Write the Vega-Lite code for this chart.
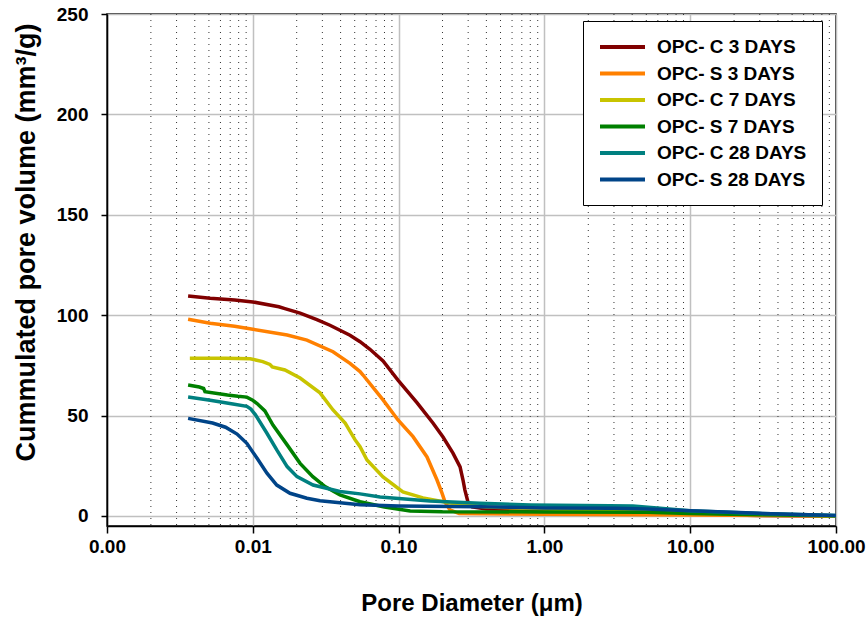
{
  "$schema": "https://vega.github.io/schema/vega-lite/v6.json",
  "width": 729,
  "height": 512,
  "autosize": {"type": "none"},
  "padding": {"left": 107, "top": 14, "right": 32, "bottom": 91},
  "background": "white",
  "config": {"font": "Liberation Sans", "view": {"stroke": "black", "strokeWidth": 1.5}},
  "datasets": {
    "minor": [
      {"d": 0.002}, {"d": 0.003}, {"d": 0.004}, {"d": 0.005}, {"d": 0.006}, {"d": 0.007}, {"d": 0.008}, {"d": 0.009},
      {"d": 0.02}, {"d": 0.03}, {"d": 0.04}, {"d": 0.05}, {"d": 0.06}, {"d": 0.07}, {"d": 0.08}, {"d": 0.09},
      {"d": 0.2}, {"d": 0.3}, {"d": 0.4}, {"d": 0.5}, {"d": 0.6}, {"d": 0.7}, {"d": 0.8}, {"d": 0.9},
      {"d": 2}, {"d": 3}, {"d": 4}, {"d": 5}, {"d": 6}, {"d": 7}, {"d": 8}, {"d": 9},
      {"d": 20}, {"d": 30}, {"d": 40}, {"d": 50}, {"d": 60}, {"d": 70}, {"d": 80}, {"d": 90}
    ],
    "curves": [
      {"s": "OPC- C 3 DAYS", "d": 0.0036, "v": 109.6},
      {"s": "OPC- C 3 DAYS", "d": 0.0051, "v": 108.4},
      {"s": "OPC- C 3 DAYS", "d": 0.0075, "v": 107.5},
      {"s": "OPC- C 3 DAYS", "d": 0.01, "v": 106.6},
      {"s": "OPC- C 3 DAYS", "d": 0.0151, "v": 104.2},
      {"s": "OPC- C 3 DAYS", "d": 0.0166, "v": 103.3},
      {"s": "OPC- C 3 DAYS", "d": 0.0211, "v": 101},
      {"s": "OPC- C 3 DAYS", "d": 0.0275, "v": 97.8},
      {"s": "OPC- C 3 DAYS", "d": 0.0338, "v": 95},
      {"s": "OPC- C 3 DAYS", "d": 0.0464, "v": 90},
      {"s": "OPC- C 3 DAYS", "d": 0.0544, "v": 86.8},
      {"s": "OPC- C 3 DAYS", "d": 0.0636, "v": 83},
      {"s": "OPC- C 3 DAYS", "d": 0.0782, "v": 77.2},
      {"s": "OPC- C 3 DAYS", "d": 0.099, "v": 67.7},
      {"s": "OPC- C 3 DAYS", "d": 0.134, "v": 56.3},
      {"s": "OPC- C 3 DAYS", "d": 0.172, "v": 46.3},
      {"s": "OPC- C 3 DAYS", "d": 0.2016, "v": 39.3},
      {"s": "OPC- C 3 DAYS", "d": 0.236, "v": 31.3},
      {"s": "OPC- C 3 DAYS", "d": 0.264, "v": 24.4},
      {"s": "OPC- C 3 DAYS", "d": 0.2765, "v": 17.9},
      {"s": "OPC- C 3 DAYS", "d": 0.285, "v": 12.9},
      {"s": "OPC- C 3 DAYS", "d": 0.299, "v": 7.0},
      {"s": "OPC- C 3 DAYS", "d": 0.319, "v": 4.5},
      {"s": "OPC- C 3 DAYS", "d": 0.4, "v": 3.5},
      {"s": "OPC- C 3 DAYS", "d": 1, "v": 3.0},
      {"s": "OPC- C 3 DAYS", "d": 5, "v": 2.5},
      {"s": "OPC- C 3 DAYS", "d": 10, "v": 1.5},
      {"s": "OPC- C 3 DAYS", "d": 20, "v": 0.5},
      {"s": "OPC- C 3 DAYS", "d": 30, "v": 0.2},
      {"s": "OPC- C 3 DAYS", "d": 100, "v": 0},
      {"s": "OPC- S 3 DAYS", "d": 0.0036, "v": 98},
      {"s": "OPC- S 3 DAYS", "d": 0.0051, "v": 96},
      {"s": "OPC- S 3 DAYS", "d": 0.0075, "v": 94.5},
      {"s": "OPC- S 3 DAYS", "d": 0.01, "v": 93},
      {"s": "OPC- S 3 DAYS", "d": 0.0172, "v": 90.1},
      {"s": "OPC- S 3 DAYS", "d": 0.0235, "v": 87.6},
      {"s": "OPC- S 3 DAYS", "d": 0.0355, "v": 81.8},
      {"s": "OPC- S 3 DAYS", "d": 0.0464, "v": 76},
      {"s": "OPC- S 3 DAYS", "d": 0.0544, "v": 71.9},
      {"s": "OPC- S 3 DAYS", "d": 0.057, "v": 70.2},
      {"s": "OPC- S 3 DAYS", "d": 0.0782, "v": 57.8},
      {"s": "OPC- S 3 DAYS", "d": 0.099, "v": 47.8},
      {"s": "OPC- S 3 DAYS", "d": 0.1256, "v": 39.5},
      {"s": "OPC- S 3 DAYS", "d": 0.1566, "v": 29.4},
      {"s": "OPC- S 3 DAYS", "d": 0.1834, "v": 17.9},
      {"s": "OPC- S 3 DAYS", "d": 0.1985, "v": 11.4},
      {"s": "OPC- S 3 DAYS", "d": 0.208, "v": 7},
      {"s": "OPC- S 3 DAYS", "d": 0.225, "v": 3},
      {"s": "OPC- S 3 DAYS", "d": 0.26, "v": 1.2},
      {"s": "OPC- S 3 DAYS", "d": 1, "v": 0.8},
      {"s": "OPC- S 3 DAYS", "d": 10, "v": 0.5},
      {"s": "OPC- S 3 DAYS", "d": 100, "v": 0},
      {"s": "OPC- C 7 DAYS", "d": 0.0037, "v": 78.5},
      {"s": "OPC- C 7 DAYS", "d": 0.0065, "v": 78.5},
      {"s": "OPC- C 7 DAYS", "d": 0.0096, "v": 78.3},
      {"s": "OPC- C 7 DAYS", "d": 0.0117, "v": 76.9},
      {"s": "OPC- C 7 DAYS", "d": 0.0131, "v": 75.5},
      {"s": "OPC- C 7 DAYS", "d": 0.0136, "v": 74.2},
      {"s": "OPC- C 7 DAYS", "d": 0.0166, "v": 72.7},
      {"s": "OPC- C 7 DAYS", "d": 0.0211, "v": 68.7},
      {"s": "OPC- C 7 DAYS", "d": 0.0289, "v": 61.3},
      {"s": "OPC- C 7 DAYS", "d": 0.0355, "v": 52.8},
      {"s": "OPC- C 7 DAYS", "d": 0.043, "v": 46.3},
      {"s": "OPC- C 7 DAYS", "d": 0.0502, "v": 38},
      {"s": "OPC- C 7 DAYS", "d": 0.0544, "v": 34.5},
      {"s": "OPC- C 7 DAYS", "d": 0.0607, "v": 27.9},
      {"s": "OPC- C 7 DAYS", "d": 0.0782, "v": 19.4},
      {"s": "OPC- C 7 DAYS", "d": 0.107, "v": 12},
      {"s": "OPC- C 7 DAYS", "d": 0.147, "v": 9},
      {"s": "OPC- C 7 DAYS", "d": 0.225, "v": 6.5},
      {"s": "OPC- C 7 DAYS", "d": 0.4, "v": 4.5},
      {"s": "OPC- C 7 DAYS", "d": 1, "v": 3.5},
      {"s": "OPC- C 7 DAYS", "d": 10, "v": 2.0},
      {"s": "OPC- C 7 DAYS", "d": 100, "v": 0},
      {"s": "OPC- S 7 DAYS", "d": 0.0036, "v": 65.2},
      {"s": "OPC- S 7 DAYS", "d": 0.0043, "v": 64.2},
      {"s": "OPC- S 7 DAYS", "d": 0.0046, "v": 63.5},
      {"s": "OPC- S 7 DAYS", "d": 0.0047, "v": 61.9},
      {"s": "OPC- S 7 DAYS", "d": 0.0067, "v": 60.2},
      {"s": "OPC- S 7 DAYS", "d": 0.0079, "v": 59.6},
      {"s": "OPC- S 7 DAYS", "d": 0.0091, "v": 59.2},
      {"s": "OPC- S 7 DAYS", "d": 0.0099, "v": 57.8},
      {"s": "OPC- S 7 DAYS", "d": 0.0107, "v": 56},
      {"s": "OPC- S 7 DAYS", "d": 0.0121, "v": 52.3},
      {"s": "OPC- S 7 DAYS", "d": 0.01375, "v": 45.3},
      {"s": "OPC- S 7 DAYS", "d": 0.0172, "v": 35.4},
      {"s": "OPC- S 7 DAYS", "d": 0.0211, "v": 26.2},
      {"s": "OPC- S 7 DAYS", "d": 0.0258, "v": 19.6},
      {"s": "OPC- S 7 DAYS", "d": 0.0313, "v": 14.6},
      {"s": "OPC- S 7 DAYS", "d": 0.0396, "v": 10.5},
      {"s": "OPC- S 7 DAYS", "d": 0.0544, "v": 7.1},
      {"s": "OPC- S 7 DAYS", "d": 0.08, "v": 4.5},
      {"s": "OPC- S 7 DAYS", "d": 0.12, "v": 2.5},
      {"s": "OPC- S 7 DAYS", "d": 0.2, "v": 2.1},
      {"s": "OPC- S 7 DAYS", "d": 1, "v": 2.0},
      {"s": "OPC- S 7 DAYS", "d": 5, "v": 1.8},
      {"s": "OPC- S 7 DAYS", "d": 10, "v": 1.2},
      {"s": "OPC- S 7 DAYS", "d": 30, "v": 0.6},
      {"s": "OPC- S 7 DAYS", "d": 100, "v": 0.1},
      {"s": "OPC- C 28 DAYS", "d": 0.0036, "v": 59.3},
      {"s": "OPC- C 28 DAYS", "d": 0.0051, "v": 57.6},
      {"s": "OPC- C 28 DAYS", "d": 0.0073, "v": 55.8},
      {"s": "OPC- C 28 DAYS", "d": 0.0091, "v": 54.6},
      {"s": "OPC- C 28 DAYS", "d": 0.0097, "v": 53.2},
      {"s": "OPC- C 28 DAYS", "d": 0.0104, "v": 50.5},
      {"s": "OPC- C 28 DAYS", "d": 0.0125, "v": 41.2},
      {"s": "OPC- C 28 DAYS", "d": 0.0146, "v": 32.9},
      {"s": "OPC- C 28 DAYS", "d": 0.0172, "v": 24.6},
      {"s": "OPC- C 28 DAYS", "d": 0.0201, "v": 19.6},
      {"s": "OPC- C 28 DAYS", "d": 0.0259, "v": 15.4},
      {"s": "OPC- C 28 DAYS", "d": 0.0396, "v": 12.2},
      {"s": "OPC- C 28 DAYS", "d": 0.0544, "v": 11},
      {"s": "OPC- C 28 DAYS", "d": 0.0746, "v": 9.4},
      {"s": "OPC- C 28 DAYS", "d": 0.164, "v": 7.5},
      {"s": "OPC- C 28 DAYS", "d": 0.361, "v": 6.3},
      {"s": "OPC- C 28 DAYS", "d": 0.8, "v": 5.5},
      {"s": "OPC- C 28 DAYS", "d": 2.8, "v": 5.1},
      {"s": "OPC- C 28 DAYS", "d": 4.05, "v": 4.9},
      {"s": "OPC- C 28 DAYS", "d": 10, "v": 2.6},
      {"s": "OPC- C 28 DAYS", "d": 30, "v": 1.2},
      {"s": "OPC- C 28 DAYS", "d": 100, "v": 0.2},
      {"s": "OPC- S 28 DAYS", "d": 0.0036, "v": 48.6},
      {"s": "OPC- S 28 DAYS", "d": 0.0053, "v": 46.3},
      {"s": "OPC- S 28 DAYS", "d": 0.0065, "v": 44.2},
      {"s": "OPC- S 28 DAYS", "d": 0.0078, "v": 40.8},
      {"s": "OPC- S 28 DAYS", "d": 0.0091, "v": 36.2},
      {"s": "OPC- S 28 DAYS", "d": 0.0107, "v": 28.7},
      {"s": "OPC- S 28 DAYS", "d": 0.0125, "v": 21.3},
      {"s": "OPC- S 28 DAYS", "d": 0.0146, "v": 15.4},
      {"s": "OPC- S 28 DAYS", "d": 0.018, "v": 11.3},
      {"s": "OPC- S 28 DAYS", "d": 0.0235, "v": 8.8},
      {"s": "OPC- S 28 DAYS", "d": 0.0289, "v": 7.6},
      {"s": "OPC- S 28 DAYS", "d": 0.0544, "v": 5.6},
      {"s": "OPC- S 28 DAYS", "d": 0.1, "v": 5.0},
      {"s": "OPC- S 28 DAYS", "d": 0.36, "v": 4.6},
      {"s": "OPC- S 28 DAYS", "d": 1, "v": 4.0},
      {"s": "OPC- S 28 DAYS", "d": 3, "v": 3.8},
      {"s": "OPC- S 28 DAYS", "d": 5, "v": 3.5},
      {"s": "OPC- S 28 DAYS", "d": 10, "v": 2.6},
      {"s": "OPC- S 28 DAYS", "d": 30, "v": 1.3},
      {"s": "OPC- S 28 DAYS", "d": 100, "v": 0.2}
    ]
  },
  "encoding": {
    "x": {
      "field": "d", "type": "quantitative",
      "scale": {"type": "log", "domain": [0.001, 100]},
      "axis": {
        "values": [0.001, 0.01, 0.1, 1, 10, 100],
        "format": ".2f",
        "title": "Pore Diameter (μm)",
        "grid": true, "gridColor": "#c0c0c0", "gridWidth": 1.5,
        "domainColor": "black", "domainWidth": 1.5,
        "tickColor": "black", "tickSize": 7, "tickWidth": 1.5,
        "labelFontSize": 19, "labelFontWeight": "bold", "labelColor": "black",
        "labelPadding": 4, "labelFlush": false,
        "titleFontSize": 24, "titleFontWeight": "bold", "titleColor": "black",
        "titlePadding": 35
      }
    }
  },
  "layer": [
    {
      "data": {"name": "minor"},
      "mark": {"type": "rule", "color": "#333333", "strokeDash": [1, 5], "strokeWidth": 1}
    },
    {
      "data": {"name": "curves"},
      "mark": {"type": "line", "strokeWidth": 3.5, "clip": true},
      "encoding": {
        "y": {
          "field": "v", "type": "quantitative",
          "scale": {"domain": [-5, 250], "nice": false, "zero": false},
          "axis": {
            "values": [0, 50, 100, 150, 200, 250],
            "title": "Cummulated pore volume (mm³/g)",
            "grid": true, "gridColor": "#c0c0c0", "gridWidth": 1.5,
            "domainColor": "black", "domainWidth": 1.5,
            "tickColor": "black", "tickSize": 6, "tickWidth": 1.5,
            "labelFontSize": 19, "labelFontWeight": "bold", "labelColor": "black",
            "labelPadding": 13,
            "titleFontSize": 27, "titleFontWeight": "bold", "titleColor": "black",
            "titleX": -67, "titleY": 228, "titleBaseline": "bottom"
          }
        },
        "color": {
          "field": "s", "type": "nominal",
          "scale": {
            "domain": ["OPC- C 3 DAYS", "OPC- S 3 DAYS", "OPC- C 7 DAYS", "OPC- S 7 DAYS", "OPC- C 28 DAYS", "OPC- S 28 DAYS"],
            "range": ["#800000", "#FF8000", "#C8C400", "#008000", "#008080", "#004488"]
          },
          "legend": {
            "title": null, "orient": "none", "legendX": 476, "legendY": 7,
            "direction": "vertical",
            "symbolType": "M-1,0H4", "symbolSize": 324, "symbolStrokeWidth": 4,
            "labelFontSize": 19, "labelFontWeight": "bold", "labelColor": "black",
            "labelOffset": 37, "labelLimit": 300, "rowPadding": 5.5,
            "padding": 15, "strokeColor": "black", "fillColor": "white"
          }
        }
      }
    }
  ]
}
